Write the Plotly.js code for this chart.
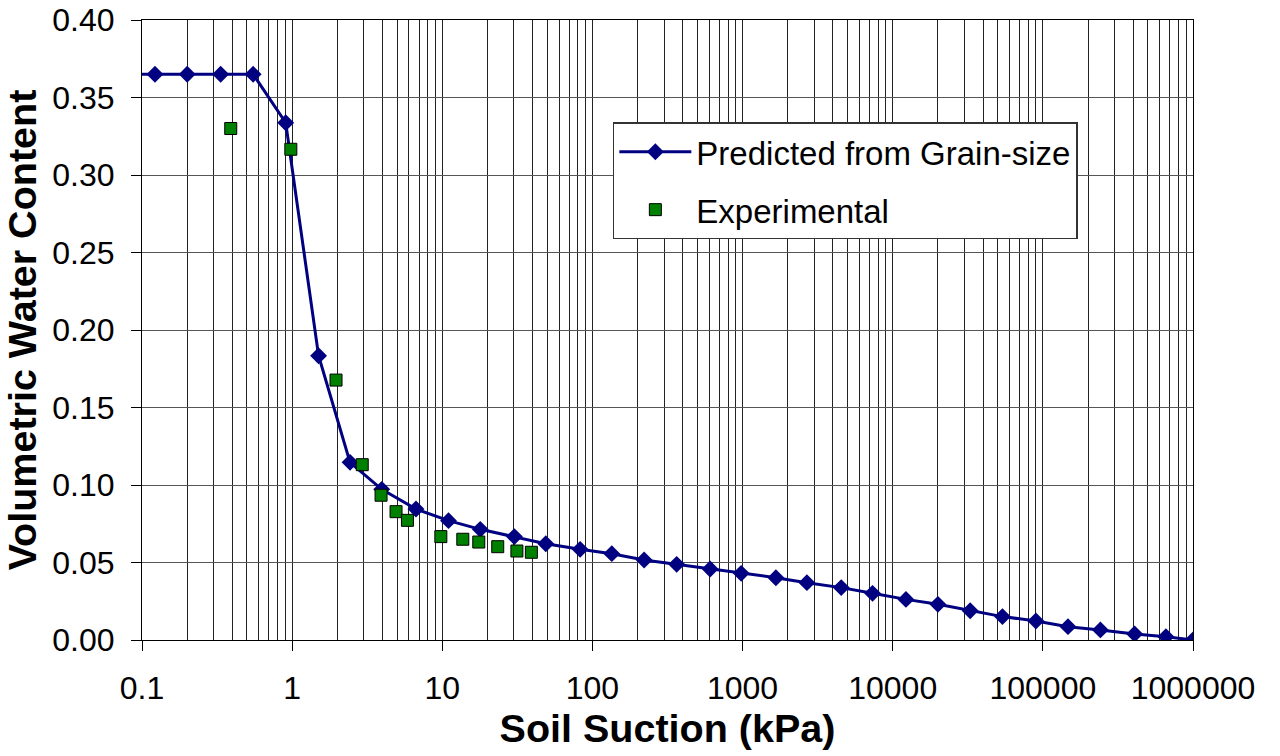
<!DOCTYPE html>
<html>
<head>
<meta charset="utf-8">
<script src="https://cdn.plot.ly/plotly-3.0.1.min.js"></script>
<style>
html,body{margin:0;padding:0;background:#fff;}
#chart{width:1280px;height:756px;}
</style>
</head>
<body>
<div id="chart"></div>
<script>
// Predicted from grain-size (soil suction kPa, volumetric water content)
const predSuction = [0.07, 0.122, 0.2, 0.334, 0.55, 0.906, 1.50, 2.43, 3.95, 6.68, 11.0, 17.9, 30.2, 48.9, 82.8, 134.6, 221, 364, 608, 979, 1667, 2682, 4540, 7340, 12250, 20000, 32800, 53800, 89900, 147000, 241700, 408600, 660000, 1000000];
const predTheta   = [0.365, 0.365, 0.365, 0.365, 0.365, 0.3337, 0.1834, 0.1146, 0.0972, 0.0845, 0.0770, 0.0714, 0.0667, 0.0621, 0.0585, 0.0557, 0.0516, 0.0488, 0.0458, 0.0430, 0.0402, 0.0370, 0.0338, 0.0301, 0.0262, 0.0230, 0.0189, 0.0151, 0.0123, 0.0086, 0.0065, 0.0039, 0.0021, 0.0];

// Experimental
const expSuction = [0.39, 0.98, 1.96, 2.93, 3.91, 4.92, 5.86, 9.78, 13.7, 17.5, 23.4, 31.4, 39.2];
const expTheta   = [0.330, 0.3166, 0.1677, 0.1131, 0.0934, 0.0828, 0.0772, 0.0667, 0.0650, 0.0632, 0.0602, 0.0574, 0.0566];

const xTickVals = [0.1, 1, 10, 100, 1000, 10000, 100000, 1000000];
const xTickText = ["0.1", "1", "10", "100", "1000", "10000", "100000", "1000000"];
const yTickVals = [0, 0.05, 0.10, 0.15, 0.20, 0.25, 0.30, 0.35, 0.40];
const yTickText = ["0.00", "0.05", "0.10", "0.15", "0.20", "0.25", "0.30", "0.35", "0.40"];

const seriesNames = ["Predicted from Grain-size", "Experimental"];

const traces = [
  {
    x: predSuction, y: predTheta, name: seriesNames[0],
    type: 'scatter', mode: 'lines+markers',
    line: {color: '#000080', width: 3},
    marker: {symbol: 'diamond', size: 13, color: '#000080'},
    legendgroup: 'a'
  },
  {
    x: expSuction, y: expTheta, name: seriesNames[1],
    type: 'scatter', mode: 'markers',
    marker: {symbol: 'square', size: 12, color: '#008000', line: {color: '#000000', width: 1}},
    legendgroup: 'b'
  }
];

const layout = {
  width: 1280, height: 756,
  margin: {l: 142, r: 87, t: 20, b: 116},
  paper_bgcolor: '#ffffff', plot_bgcolor: '#ffffff',
  font: {family: 'Liberation Sans, Arial, sans-serif', color: '#000000', size: 32},
  showlegend: true,
  legend: {
    x: 0.448, y: 0.835, xanchor: 'left', yanchor: 'top',
    bgcolor: '#ffffff', bordercolor: '#333333', borderwidth: 1.5,
    font: {size: 33, color: '#000'}, tracegroupgap: 12, traceorder: 'grouped',
    itemwidth: 72
  },
  xaxis: {
    type: 'log', range: [-1, 6],
    tickmode: 'array', tickvals: xTickVals, ticktext: xTickText,
    ticks: 'outside', ticklen: 10, tickcolor: '#000', tickwidth: 1,
    ticklabelstandoff: 10,
    showline: true, linecolor: '#000', linewidth: 1, mirror: true,
    showgrid: true, gridcolor: '#222222', gridwidth: 1,
    minor: {dtick: 'D1', showgrid: true, gridcolor: '#222222', gridwidth: 1, ticks: ''},
    tickfont: {size: 32},
    zeroline: false,
    title: {text: '<b>Soil Suction (kPa)</b>', font: {size: 39.5}, standoff: 8}
  },
  yaxis: {
    range: [0, 0.4],
    tickmode: 'array', tickvals: yTickVals, ticktext: yTickText,
    ticks: 'outside', ticklen: 10, tickcolor: '#000', tickwidth: 1,
    ticklabelstandoff: 10,
    showline: true, linecolor: '#000', linewidth: 1, mirror: true,
    showgrid: true, gridcolor: '#555555', gridwidth: 1,
    zeroline: false,
    tickfont: {size: 32},
    title: {text: '<b>Volumetric Water Content</b>', font: {size: 39.5}, standoff: 4}
  }
};

Plotly.newPlot('chart', traces, layout, {displayModeBar: false, staticPlot: true});
</script>
</body>
</html>
